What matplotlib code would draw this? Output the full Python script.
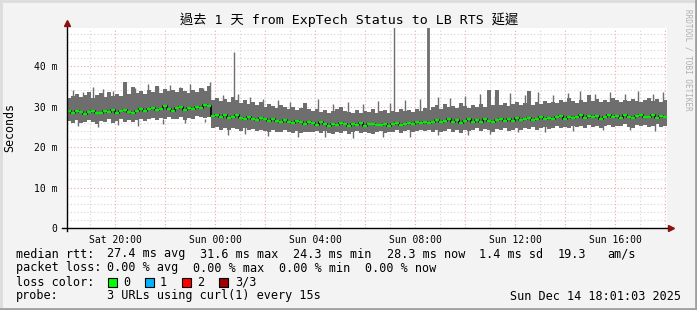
import numpy as np
import matplotlib.pyplot as plt
from matplotlib.patches import Rectangle
from matplotlib.lines import Line2D

# --- data (ms), one sample every 0.16 h starting Sat 18:05 ---
t_start = 18.08
dt = 0.16

median = [
    28.8, 28.4, 28.9, 28.6, 28.2, 28.7, 29.0, 28.5, 28.3, 28.9,
    28.6, 29.1, 28.4, 28.8, 29.2, 28.7, 28.5, 29.0, 29.3, 28.9,
    29.4, 29.6, 29.1, 29.5, 30.2, 29.3, 29.0, 29.6, 29.8, 29.2,
    29.7, 29.4, 30.0, 29.6, 30.4, 30.1,
    27.6, 28.0, 27.3, 27.8, 27.1, 27.5, 27.9, 27.2, 26.9, 27.4,
    27.0, 26.6, 27.2, 26.8, 26.4, 26.9, 26.5, 26.2, 26.7, 26.3,
    26.0, 26.5, 26.1, 25.8, 26.3,
    25.9, 25.5, 26.1, 25.7, 25.3, 25.8, 25.4, 26.0, 25.6, 25.2,
    25.7, 25.5, 25.9, 25.3, 25.6, 25.8, 25.4, 25.5, 25.7, 25.3,
    25.6, 25.9, 25.4, 25.8, 26.0, 25.6, 26.2, 25.9, 26.3, 26.0,
    26.2, 26.6, 26.1, 26.5, 26.9, 26.3, 26.7, 26.0, 26.4, 26.8,
    26.2, 26.6, 26.3, 26.9, 26.5, 26.1, 26.7, 27.0, 26.4, 26.8,
    26.5, 27.1, 26.6, 26.9, 27.2, 26.7, 27.0, 27.4, 26.8, 27.2,
    26.9, 27.3, 27.6, 27.0, 27.4, 27.1, 27.5, 27.8, 27.2, 27.6,
    27.3, 27.7, 27.0, 27.5, 27.9, 27.3, 27.6, 27.2, 27.8, 27.4,
    27.1, 27.6, 27.9, 27.3, 27.5, 27.8, 27.2, 27.6, 27.4,
]

upper = [
    32.0, 32.6, 33.1, 32.3, 32.8, 33.5, 32.2, 32.9, 33.3, 32.4,
    33.6, 32.7, 33.0, 32.5, 36.1, 33.2, 34.8, 33.4, 33.9, 33.0,
    34.1, 33.6, 35.0, 33.3, 34.4, 33.8, 34.0, 33.5, 34.6, 33.9,
    33.4, 34.2, 33.7, 34.5, 33.9, 35.0,
    31.6, 32.1, 31.3, 31.8, 31.0, 32.3, 31.5, 30.9, 31.7, 30.6,
    31.2, 30.4, 31.0, 29.9, 30.6, 30.2, 29.6, 30.3, 29.8, 29.4,
    30.0, 29.2, 29.7, 30.9, 29.5,
    28.9, 29.4, 28.6, 29.1, 28.4, 28.8, 29.3, 30.0, 29.0, 28.7,
    28.5, 29.2, 28.3, 28.9, 28.6, 29.3, 28.4, 28.8, 29.1, 28.5,
    29.0, 28.6, 29.4, 28.8, 29.2, 28.7, 29.5, 29.0, 29.6, 29.2,
    29.8, 30.3, 29.5, 30.6, 29.9, 30.2, 29.6, 30.8, 30.1, 29.7,
    30.4, 30.0, 30.7, 29.9, 34.0, 30.5, 34.2, 30.3, 30.9, 30.2,
    30.6, 31.0, 30.4, 30.8, 33.8, 30.5, 31.1, 30.7, 31.3, 30.9,
    31.2, 30.8, 31.5, 31.0, 32.0, 31.4, 30.9, 31.6, 31.2, 32.8,
    31.3, 31.8, 31.0, 31.6, 31.2, 32.0, 31.5, 31.1, 31.7, 31.3,
    31.9, 31.4, 31.0, 31.6, 32.1, 31.3, 31.8, 31.2, 31.5,
]

lower = [
    26.4, 26.0, 26.6, 25.9, 26.3, 26.7, 26.1, 25.8, 26.5, 26.2,
    26.8, 26.0, 26.4, 26.9, 26.3, 26.6, 26.1, 26.7, 27.0, 26.5,
    26.9, 27.1, 26.6, 27.2, 26.8, 27.4, 26.9, 27.0, 27.5, 26.7,
    27.2, 27.0, 27.6, 27.3, 27.1, 27.4,
    24.6, 25.0, 24.3, 24.8, 24.2, 24.7, 24.4, 24.0, 24.6, 24.1,
    24.5, 23.9, 24.3, 24.0, 23.7, 24.2, 23.8, 23.6, 24.1, 23.7,
    23.5, 23.9, 23.4, 23.8, 23.6,
    23.6, 24.0, 23.4, 23.9, 23.5, 23.2, 23.8, 23.5, 23.9, 23.3,
    23.7, 24.0, 23.4, 23.8, 23.5, 23.1, 23.7, 23.9, 23.4, 23.6,
    23.8, 24.1, 23.5, 23.9, 24.2, 23.7, 24.0, 24.3, 23.9, 24.2,
    23.8, 24.2, 23.6, 24.0, 24.4, 23.7, 24.1, 23.5, 24.3, 23.9,
    24.2, 24.6, 23.9, 24.4, 24.1, 23.8, 24.5, 24.2, 24.7, 24.0,
    24.3, 24.8, 24.1, 24.6, 24.4, 24.9, 24.2, 24.7, 25.0, 24.5,
    24.8, 25.1, 24.6, 25.0, 24.7, 25.3, 24.9, 25.2, 24.8, 25.4,
    25.0, 25.3, 24.8, 25.2, 25.5, 24.9, 25.3, 25.1, 25.6, 25.0,
    24.8, 25.4, 25.1, 25.5, 24.9, 25.3, 25.6, 25.0, 25.2,
]

# thin single-ping excursions above / below the band (hour, ms)
up_whisk_h = [18.3, 18.7, 19.1, 19.5, 19.9, 20.4, 20.8, 21.3, 21.7, 22.2,
              22.6, 23.0, 23.5, 23.8, 24.3, 24.9, 25.4, 25.9, 26.5, 27.0,
              27.6, 28.1, 28.7, 29.3, 29.9, 30.5, 31.0, 31.6, 32.2, 32.9,
              33.4, 34.0, 34.6, 35.2, 35.8, 36.4, 36.9, 37.5, 38.1, 38.6,
              39.2, 39.8, 40.4, 40.9, 41.5, 41.9]
up_whisk_v = [34.0, 33.6, 34.9, 34.4, 33.8, 35.2, 34.6, 35.5, 34.8, 35.3,
              34.9, 35.6, 34.7, 36.0, 32.8, 33.1, 32.4, 31.9, 31.6, 31.2,
              30.8, 31.9, 30.6, 31.0, 30.7, 31.3, 30.9, 31.5, 31.8, 32.4,
              32.0, 32.6, 33.1, 32.5, 33.3, 32.8, 33.6, 32.9, 33.4, 33.8,
              33.0, 33.7, 33.2, 33.9, 33.1, 33.5]
lo_whisk_h = [18.5, 19.3, 20.1, 20.9, 21.9, 22.8, 23.6, 24.5, 25.2, 26.1,
              27.3, 28.4, 29.5, 30.7, 31.8, 32.9, 34.1, 35.0, 36.1, 37.2,
              38.3, 39.5, 40.6, 41.6]
lo_whisk_v = [25.2, 25.0, 25.5, 25.3, 25.8, 26.0, 26.2, 23.0, 23.2, 22.8,
              22.6, 22.5, 22.3, 22.6, 22.4, 22.9, 23.0, 23.3, 23.6, 23.8,
              23.9, 24.1, 24.3, 24.0]

# single tall outliers (hour, peak ms)
spike_hours = [24.76, 31.16, 32.52]
spike_peaks = [43.5, 52.0, 52.0]
spike_widths = [1.0, 1.0, 2.0]

tick_hours = [20, 24, 28, 32, 36, 40]
tick_labels = ['Sat 20:00', 'Sun 00:00', 'Sun 04:00', 'Sun 08:00', 'Sun 12:00', 'Sun 16:00']
y_ticks = [0, 10, 20, 30, 40]
y_labels = ['0', '10 m', '20 m', '30 m', '40 m']

W, H = 697, 310
MONO = 'DejaVu Sans Mono'
SMOKE = '#6e6e6e'


def px(x, y):
    return x / W, 1 - y / H


fig = plt.figure(figsize=(W / 100, H / 100), dpi=100, facecolor='#f3f3f3')
ax = fig.add_axes([67 / W, 82 / H, 600 / W, 200 / H], facecolor='white')

t = t_start + dt * np.arange(len(median))
t_ext = np.append(t, t[-1] + dt)
up_ext = np.append(upper, upper[-1])
lo_ext = np.append(lower, lower[-1])
med_ext = np.append(median, median[-1])

ax.fill_between(t_ext, lo_ext, up_ext, step='post', color=SMOKE, lw=0, zorder=2)
ax.vlines(up_whisk_h, 28, up_whisk_v, color=SMOKE, lw=1, zorder=2)
ax.vlines(lo_whisk_h, lo_whisk_v, 27, color=SMOKE, lw=1, zorder=2)
for h, p, w in zip(spike_hours, spike_peaks, spike_widths):
    ax.vlines(h, 28, p, color=SMOKE, lw=w, zorder=2)
ax.step(t_ext, med_ext, where='post', color='black', lw=1.2, zorder=3)
ax.hlines(median, t, t + dt, color='#00ee00', lw=1.6, zorder=4)

ax.set_xlim(18.08, 42.08)
ax.set_ylim(0, 49.4)

# grid
for h in range(19, 43):
    col = '#e8a8a8' if h % 2 == 0 else '#d4d4d4'
    ax.axvline(h, color=col, lw=0.8, ls=(0, (1, 2)), zorder=1)
for v in range(2, 50, 2):
    col = '#e8a8a8' if v % 10 == 0 else '#d4d4d4'
    ax.axhline(v, color=col, lw=0.8, ls=(0, (1, 2)), zorder=1)

for s in ['top', 'right', 'left', 'bottom']:
    ax.spines[s].set_visible(False)

ax.set_xticks(tick_hours)
ax.set_xticklabels(tick_labels, family=MONO, fontsize=7)
ax.set_yticks(y_ticks)
ax.set_yticklabels(y_labels, family=MONO, fontsize=7)
ax.tick_params(axis='both', length=0, colors='black')
ax.tick_params(axis='x', pad=5)
ax.tick_params(axis='y', pad=7)
fig.text(*px(10, 127), 'Seconds', family=MONO, fontsize=8.4, rotation=90,
         ha='center', va='center')

# axes lines with arrows
fig.add_artist(Line2D([62 / W, 670 / W], [1 - 228 / H] * 2, color='black', lw=1))
fig.add_artist(Line2D([67 / W] * 2, [1 - 231 / H, 1 - 24 / H], color='black', lw=1))
fig.add_artist(Line2D([671 / W], [1 - 228 / H], marker='>', color='#8b1010', markersize=4))
fig.add_artist(Line2D([67 / W], [1 - 23 / H], marker='^', color='#8b1010', markersize=4))

# frame shading
fig.add_artist(Line2D([0, 1], [1 - 1 / H] * 2, color='#dcdcdc', lw=2))
fig.add_artist(Line2D([1 / W] * 2, [0, 1], color='#dcdcdc', lw=2))
fig.add_artist(Line2D([0, 1], [1 / H] * 2, color='#a0a0a0', lw=2))
fig.add_artist(Line2D([1 - 1 / W] * 2, [0, 1], color='#a0a0a0', lw=2))

fig.text(*px(349, 20), '過去 1 天 from ExpTech Status to LB RTS 延遲',
         family=[MONO, 'Noto Sans CJK TC'], fontsize=9.5, ha='center', va='center')
fig.text(*px(688, 60), 'RRDTOOL / TOBI OETIKER', family=MONO, fontsize=5.5,
         color='#b0b0b0', rotation=-90, ha='center', va='center')

fs = 8.5
rows = [
    (254, [(16, 'median rtt:'), (107, '27.4 ms avg'), (200, '31.6 ms max'),
           (293, '24.3 ms min'), (387, '28.3 ms now'), (479, '1.4 ms sd'),
           (558, '19.3'), (607, 'am/s')]),
    (268, [(16, 'packet loss:'), (107, '0.00 % avg'), (193, '0.00 % max'),
           (279, '0.00 % min'), (365, '0.00 % now')]),
    (282, [(16, 'loss color:'), (123, '0'), (160, '1'), (197, '2'), (235, '3/3')]),
    (296, [(16, 'probe:'), (107, '3 URLs using curl(1) every 15s')]),
]
for y, items in rows:
    for x, s in items:
        fig.text(*px(x, y), s, family=MONO, fontsize=fs, ha='left', va='center')

loss_colors = ['#00ff00', '#00b4ff', '#ff0000', '#a00000']
loss_x = [108, 145, 182, 219]
for x, c in zip(loss_x, loss_colors):
    x0, y0 = px(x, 287)
    fig.add_artist(Rectangle((x0, y0), 9 / W, 9 / H, facecolor=c,
                             edgecolor='black', lw=0.8, transform=fig.transFigure))

fig.text(*px(681, 296), 'Sun Dec 14 18:01:03 2025', family=MONO, fontsize=fs,
         ha='right', va='center')

fig.savefig('out.png', dpi=100, facecolor=fig.get_facecolor())
